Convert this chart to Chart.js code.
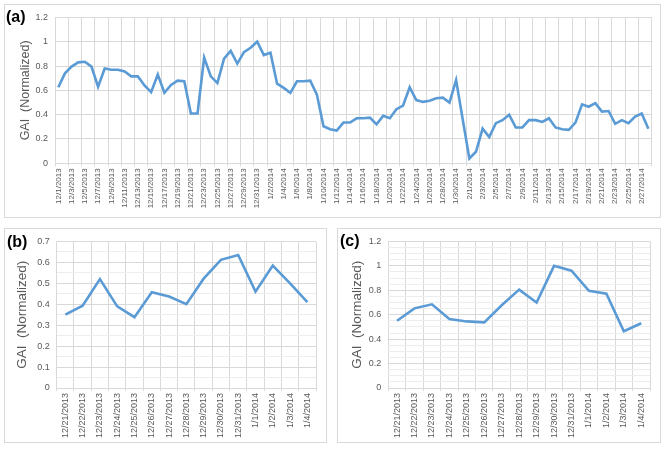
<!DOCTYPE html>
<html>
<head>
<meta charset="utf-8">
<title>GAI (Normalized)</title>
<script src="https://cdn.jsdelivr.net/npm/chart.js@4.4.0/dist/chart.umd.min.js"></script>
<style>
    body { margin: 0; background: #fff; width: 666px; height: 449px; overflow: hidden; position: relative; font-family: "Liberation Sans", Arial, sans-serif; }
    .frame { position: absolute; border: 1px solid #d9d9d9; box-sizing: border-box; }
    .panel-label { position: absolute; font-weight: bold; font-size: 16px; line-height: 16px; color: #000; }
    canvas { position: absolute; }
</style>
</head>
<body>
<div class="frame" style="left:4px;top:4px;width:657px;height:214px"></div>
<div class="frame" style="left:4px;top:228px;width:323px;height:215px"></div>
<div class="frame" style="left:337px;top:228px;width:324px;height:215px"></div>

<canvas id="chartA" width="655" height="212" style="left:5px;top:5px"></canvas>
<canvas id="chartB" width="321" height="213" style="left:5px;top:229px"></canvas>
<canvas id="chartC" width="322" height="213" style="left:338px;top:229px"></canvas>

<div class="panel-label" style="left:6px;top:9px">(a)</div>
<div class="panel-label" style="left:7px;top:234px">(b)</div>
<div class="panel-label" style="left:340px;top:233px">(c)</div>

<script>
// Panel (a): daily GAI, 12/1/2013 - 2/28/2014
const fechasA = [
    '12/1/2013', '12/2/2013', '12/3/2013', '12/4/2013', '12/5/2013', '12/6/2013', '12/7/2013', '12/8/2013', '12/9/2013', '12/10/2013',
    '12/11/2013', '12/12/2013', '12/13/2013', '12/14/2013', '12/15/2013', '12/16/2013', '12/17/2013', '12/18/2013', '12/19/2013', '12/20/2013',
    '12/21/2013', '12/22/2013', '12/23/2013', '12/24/2013', '12/25/2013', '12/26/2013', '12/27/2013', '12/28/2013', '12/29/2013', '12/30/2013',
    '12/31/2013', '1/1/2014', '1/2/2014', '1/3/2014', '1/4/2014', '1/5/2014', '1/6/2014', '1/7/2014', '1/8/2014', '1/9/2014',
    '1/10/2014', '1/11/2014', '1/12/2014', '1/13/2014', '1/14/2014', '1/15/2014', '1/16/2014', '1/17/2014', '1/18/2014', '1/19/2014',
    '1/20/2014', '1/21/2014', '1/22/2014', '1/23/2014', '1/24/2014', '1/25/2014', '1/26/2014', '1/27/2014', '1/28/2014', '1/29/2014',
    '1/30/2014', '1/31/2014', '2/1/2014', '2/2/2014', '2/3/2014', '2/4/2014', '2/5/2014', '2/6/2014', '2/7/2014', '2/8/2014',
    '2/9/2014', '2/10/2014', '2/11/2014', '2/12/2014', '2/13/2014', '2/14/2014', '2/15/2014', '2/16/2014', '2/17/2014', '2/18/2014',
    '2/19/2014', '2/20/2014', '2/21/2014', '2/22/2014', '2/23/2014', '2/24/2014', '2/25/2014', '2/26/2014', '2/27/2014', '2/28/2014'
];
const gaiA = [
    0.625, 0.74, 0.795, 0.83, 0.835, 0.795, 0.63, 0.78, 0.77, 0.77,
    0.755, 0.715, 0.715, 0.64, 0.585, 0.73, 0.58, 0.645, 0.68, 0.675,
    0.41, 0.41, 0.87, 0.715, 0.66, 0.86, 0.925, 0.82, 0.915, 0.95,
    1.0, 0.89, 0.91, 0.655, 0.62, 0.58, 0.675, 0.675, 0.68, 0.565,
    0.305, 0.28, 0.27, 0.335, 0.335, 0.37, 0.37, 0.375, 0.32, 0.39,
    0.37, 0.445, 0.475, 0.625, 0.52, 0.505, 0.515, 0.535, 0.54, 0.5,
    0.685, 0.36, 0.04, 0.095, 0.285, 0.215, 0.33, 0.355, 0.4, 0.295,
    0.295, 0.355, 0.355, 0.34, 0.37, 0.295, 0.28, 0.275, 0.335, 0.485,
    0.465, 0.495, 0.425, 0.43, 0.325, 0.355, 0.33, 0.385, 0.41, 0.285
];

// Panels (b) and (c): 12/21/2013 - 1/4/2014
const fechasBC = [
    '12/21/2013', '12/22/2013', '12/23/2013', '12/24/2013', '12/25/2013', '12/26/2013', '12/27/2013', '12/28/2013',
    '12/29/2013', '12/30/2013', '12/31/2013', '1/1/2014', '1/2/2014', '1/3/2014', '1/4/2014'
];
const gaiB = [0.35, 0.393, 0.52, 0.39, 0.338, 0.457, 0.437, 0.4, 0.522, 0.612, 0.635, 0.46, 0.585, 0.5, 0.41];
const gaiC = [0.55, 0.652, 0.685, 0.564, 0.545, 0.537, 0.677, 0.805, 0.70, 1.0, 0.96, 0.795, 0.772, 0.465, 0.53];

const AZUL = '#5B9BD5';
const GRIS_TEXTO = '#595959';
const GRIS_GRID = '#D9D9D9';
const GRIS_MENOR = '#EDEDED';

function crearGrafico(id, labels, values, cfg) {
    const esMayor = v => Math.abs(v / cfg.major - Math.round(v / cfg.major)) < 1e-6;
    return new Chart(document.getElementById(id), {
        type: 'line',
        data: {
            labels: labels,
            datasets: [{
                data: values,
                borderColor: AZUL,
                borderWidth: 2.6,
                pointRadius: 0,
                tension: 0,
                fill: false
            }]
        },
        options: {
            responsive: false,
            animation: false,
            devicePixelRatio: 1,
            layout: { padding: { left: cfg.padLeft, top: cfg.padTop, right: cfg.padRight, bottom: 0 } },
            plugins: {
                legend: { display: false },
                tooltip: { enabled: false }
            },
            scales: {
                x: {
                    offset: true,
                    grid: {
                        offset: true,
                        tickLength: 3,
                        color: ctx => (ctx.index === undefined || ctx.index % cfg.every === 0) ? GRIS_GRID : 'rgba(0,0,0,0)'
                    },
                    border: { color: GRIS_GRID },
                    ticks: {
                        autoSkip: false,
                        minRotation: 90,
                        maxRotation: 90,
                        padding: 2,
                        color: GRIS_TEXTO,
                        font: { family: 'Liberation Sans', size: cfg.xTickSize },
                        callback: function(val, i) {
                            return i % cfg.every === 0 ? this.getLabelForValue(val) : '';
                        }
                    },
                    afterFit: s => { s.height = cfg.xHeight; }
                },
                y: {
                    min: 0,
                    max: cfg.max,
                    border: { display: false },
                    grid: {
                        drawTicks: false,
                        color: ctx => (!ctx.tick || esMayor(ctx.tick.value)) ? GRIS_GRID : GRIS_MENOR
                    },
                    ticks: {
                        stepSize: cfg.minor,
                        autoSkip: false,
                        padding: 7,
                        color: GRIS_TEXTO,
                        font: { family: 'Liberation Sans', size: cfg.yTickSize },
                        callback: v => esMayor(v) ? String(Math.round(v * 100) / 100) : ''
                    },
                    title: {
                        display: true,
                        text: 'GAI  (Normalized)',
                        color: GRIS_TEXTO,
                        font: { family: 'Liberation Sans', size: cfg.titleSize },
                        padding: { top: 4, bottom: 4 }
                    },
                    afterFit: s => { s.width = cfg.yWidth; }
                }
            }
        }
    });
}

// Panel (a)
crearGrafico('chartA', fechasA, gaiA, {
    max: 1.2, major: 0.2, minor: 0.2, every: 2,
    xTickSize: 8, yTickSize: 9, titleSize: 12.5,
    padLeft: 9, padTop: 10, padRight: 8,
    yWidth: 41, xHeight: 53.7
});

// Panel (b)
crearGrafico('chartB', fechasBC, gaiB, {
    max: 0.7, major: 0.1, minor: 0.05, every: 1,
    xTickSize: 9, yTickSize: 9, titleSize: 13.5,
    padLeft: 5, padTop: 11, padRight: 10,
    yWidth: 46.7, xHeight: 54
});

// Panel (c)
crearGrafico('chartC', fechasBC, gaiC, {
    max: 1.2, major: 0.2, minor: 0.05, every: 1,
    xTickSize: 9, yTickSize: 9, titleSize: 13.5,
    padLeft: 7.4, padTop: 11, padRight: 10,
    yWidth: 42.9, xHeight: 54
});
</script>
</body>
</html>
